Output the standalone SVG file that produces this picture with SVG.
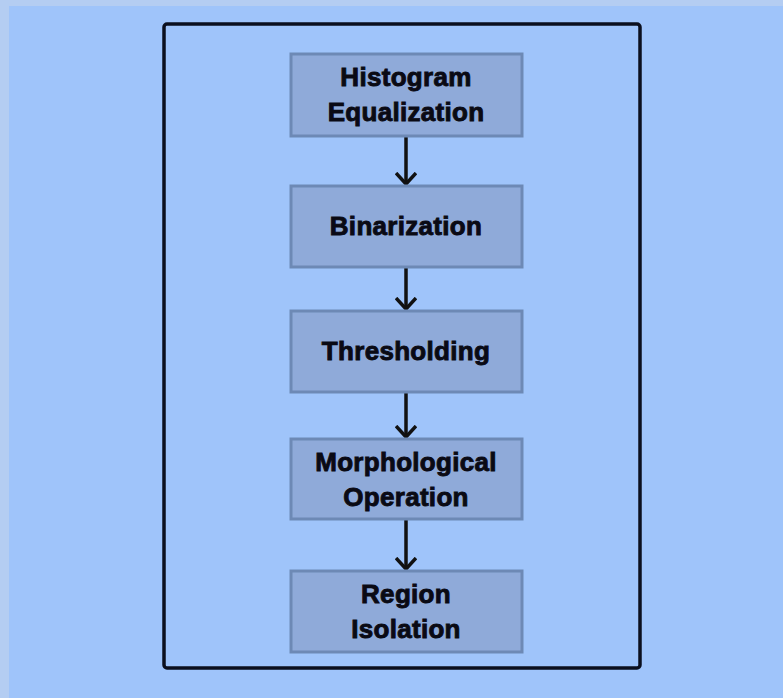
<svg xmlns="http://www.w3.org/2000/svg" width="783" height="698" viewBox="0 0 783 698">
<style>
.box{fill:#8faad9;stroke:#6d89b5;stroke-width:3}
.lbl{font-family:"Liberation Sans",Arial,sans-serif;font-weight:bold;font-size:26px;fill:#0a0a14;stroke:#0a0a14;stroke-width:0.9;text-anchor:middle;letter-spacing:0.3px}
.con{stroke:#111;stroke-width:3.5;fill:none}
</style>
<defs>
<marker id="ah" markerWidth="14" markerHeight="22" refX="12" refY="11" orient="auto" markerUnits="userSpaceOnUse" viewBox="0 0 14 22">
<path d="M1,1 L12,11 L1,21" fill="none" stroke="#111" stroke-width="3.5"/>
</marker>
</defs>
<rect x="0" y="0" width="783" height="698" fill="#b4cdf2"/>
<rect x="9" y="6" width="774" height="692" fill="#9fc4fa"/>
<rect x="164" y="24" width="476" height="644" rx="3" fill="none" stroke="#0b0f1e" stroke-width="3.5"/>
<g id="connectors">
<line class="con" x1="406" y1="137" x2="406" y2="184" marker-end="url(#ah)"/>
<line class="con" x1="406" y1="268" x2="406" y2="309" marker-end="url(#ah)"/>
<line class="con" x1="406" y1="393" x2="406" y2="437" marker-end="url(#ah)"/>
<line class="con" x1="406" y1="520" x2="406" y2="569" marker-end="url(#ah)"/>
</g>
<g id="n1"><rect class="box" x="291" y="54" width="231" height="82"/><text class="lbl" x="406" y="86">Histogram</text><text class="lbl" x="406" y="121">Equalization</text></g>
<g id="n2"><rect class="box" x="291" y="186" width="231" height="81"/><text class="lbl" x="406" y="235">Binarization</text></g>
<g id="n3"><rect class="box" x="291" y="311" width="231" height="81"/><text class="lbl" x="406" y="360">Thresholding</text></g>
<g id="n4"><rect class="box" x="291" y="439" width="231" height="80"/><text class="lbl" x="406" y="471">Morphological</text><text class="lbl" x="406" y="506">Operation</text></g>
<g id="n5"><rect class="box" x="291" y="571" width="231" height="81"/><text class="lbl" x="406" y="603">Region</text><text class="lbl" x="406" y="638">Isolation</text></g>
</svg>
